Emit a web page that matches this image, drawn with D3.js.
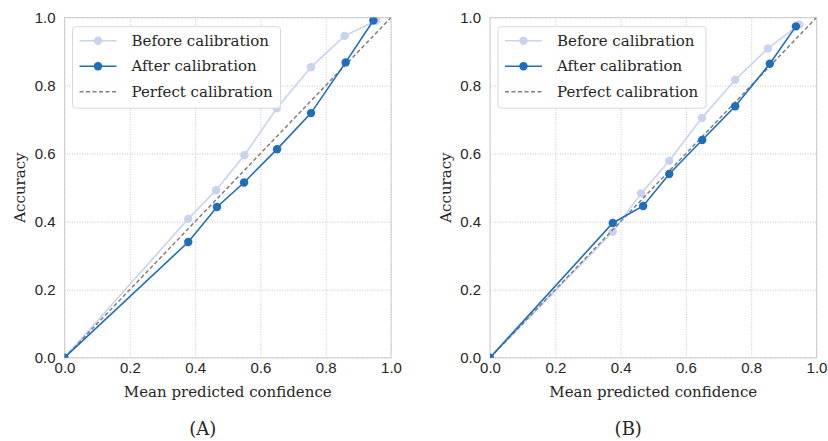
<!DOCTYPE html>
<html>
<head>
<meta charset="utf-8">
<script src="https://cdn.jsdelivr.net/npm/d3@7"></script>
<style>
  body { margin: 0; background: #fff; }
  svg { font-family: "DejaVu Serif", serif; }
</style>
</head>
<body>
<div id="chart"></div>
<script>
/* Two reliability diagrams: before vs after calibration */

const ticks = [0, 0.2, 0.4, 0.6, 0.8, 1.0];
const seriesNames = ["Before calibration", "After calibration", "Perfect calibration"];
const panelLabels = ["(A)", "(B)"];

// Panel A
const aBeforeX = [0, 0.379, 0.464, 0.551, 0.650, 0.755, 0.858, 0.955];
const aBeforeY = [0, 0.408, 0.492, 0.595, 0.733, 0.854, 0.946, 0.991];
const aAfterX  = [0, 0.379, 0.467, 0.550, 0.651, 0.755, 0.861, 0.946];
const aAfterY  = [0, 0.340, 0.443, 0.515, 0.613, 0.719, 0.868, 0.991];

// Panel B
const bBeforeX = [0, 0.376, 0.463, 0.549, 0.649, 0.751, 0.851, 0.947];
const bBeforeY = [0, 0.370, 0.483, 0.579, 0.705, 0.817, 0.909, 0.979];
const bAfterX  = [0, 0.376, 0.469, 0.549, 0.650, 0.751, 0.857, 0.937];
const bAfterY  = [0, 0.396, 0.446, 0.540, 0.640, 0.739, 0.864, 0.974];

const colBefore = "#c9d3ee";
const colAfter = "#1f6eb9";
const textCol = "#262626";

const width = 828, height = 441;
const svg = d3.select("#chart").append("svg")
  .attr("width", width)
  .attr("height", height);

const zip = (xs, ys) => xs.map((x, i) => ({ x, y: ys[i] }));

function drawPanel(left, data, label, idx) {
  const top = 17.5, bottom = 357.7, w = 326.5;
  const x = d3.scaleLinear().domain([0, 1]).range([left, left + w]);
  const y = d3.scaleLinear().domain([0, 1]).range([bottom, top]);
  const g = svg.append("g");

  // Grid
  g.append("g")
    .attr("transform", `translate(0, ${bottom})`)
    .call(d3.axisBottom(x).tickValues(ticks).tickSize(-(bottom - top)).tickFormat(d3.format(".1f")))
    .call(g => g.select(".domain").remove())
    .call(g => g.selectAll("line").attr("stroke", "#b8b8b8").attr("stroke-dasharray", "1,1.5").attr("stroke-width", 0.8))
    .call(g => g.selectAll("text").attr("fill", textCol).attr("font-size", 15).attr("dy", "0.9em").attr("y", 2));

  g.append("g")
    .attr("transform", `translate(${left}, 0)`)
    .call(d3.axisLeft(y).tickValues(ticks).tickSize(-w).tickFormat(d3.format(".1f")))
    .call(g => g.select(".domain").remove())
    .call(g => g.selectAll("line").attr("stroke", "#b8b8b8").attr("stroke-dasharray", "1,1.5").attr("stroke-width", 0.8))
    .call(g => g.selectAll("text").attr("fill", textCol).attr("font-size", 15).attr("x", -9));

  // Frame
  g.append("rect")
    .attr("x", left).attr("y", top)
    .attr("width", w).attr("height", bottom - top)
    .attr("fill", "none").attr("stroke", "#d0d0d0").attr("stroke-width", 1);

  const clipId = "clip" + idx;
  svg.append("clipPath").attr("id", clipId)
    .append("rect").attr("x", left).attr("y", top).attr("width", w).attr("height", bottom - top);
  const plot = g.append("g").attr("clip-path", `url(#${clipId})`);

  const line = d3.line().x(d => x(d.x)).y(d => y(d.y));

  // Before
  plot.append("path").datum(data.before).attr("d", line)
    .attr("fill", "none").attr("stroke", colBefore).attr("stroke-width", 1.6);
  plot.selectAll(".pb").data(data.before).join("circle")
    .attr("cx", d => x(d.x)).attr("cy", d => y(d.y)).attr("r", 4.2).attr("fill", colBefore);

  // Perfect
  plot.append("path").datum([{ x: 0, y: 0 }, { x: 1, y: 1 }]).attr("d", line)
    .attr("fill", "none").attr("stroke", "#808080").attr("stroke-width", 1.5).attr("stroke-dasharray", "4,2.5");

  // After
  plot.append("path").datum(data.after).attr("d", line)
    .attr("fill", "none").attr("stroke", colAfter).attr("stroke-width", 1.6);
  plot.selectAll(".pa").data(data.after).join("circle")
    .attr("cx", d => x(d.x)).attr("cy", d => y(d.y)).attr("r", 4.2).attr("fill", colAfter);

  // Axis labels
  g.append("text")
    .attr("x", left + w / 2).attr("y", 397)
    .attr("text-anchor", "middle").attr("font-size", 15).attr("fill", textCol)
    .text("Mean predicted confidence");
  g.append("text")
    .attr("transform", `translate(${left - 39.5}, ${(top + bottom) / 2}) rotate(-90)`)
    .attr("text-anchor", "middle").attr("font-size", 15).attr("fill", textCol)
    .text("Accuracy");
  g.append("text")
    .attr("x", left + w / 2 - 25).attr("y", 435)
    .attr("text-anchor", "middle").attr("font-size", 18).attr("fill", textCol)
    .text(label);

  // Legend
  const lg = g.append("g").attr("transform", `translate(${left + 8}, 26.7)`);
  lg.append("rect").attr("width", 208).attr("height", 81.5).attr("rx", 3)
    .attr("fill", "rgba(255,255,255,0.85)").attr("stroke", "#d8d8d8");
  const styles = [
    { c: colBefore, dash: null, dot: true },
    { c: colAfter, dash: null, dot: true },
    { c: "#808080", dash: "4,2.5", dot: false }
  ];
  seriesNames.forEach((name, i) => {
    const yy = 14 + i * 25.5;
    lg.append("line").attr("x1", 7).attr("x2", 44).attr("y1", yy).attr("y2", yy)
      .attr("stroke", styles[i].c).attr("stroke-width", 1.6)
      .attr("stroke-dasharray", styles[i].dash);
    if (styles[i].dot) {
      lg.append("circle").attr("cx", 25.5).attr("cy", yy).attr("r", 4.2).attr("fill", styles[i].c);
    }
    lg.append("text").attr("x", 59).attr("y", yy).attr("dy", "0.35em")
      .attr("font-size", 15).attr("fill", textCol).text(name);
  });
}

drawPanel(64.5, { before: zip(aBeforeX, aBeforeY), after: zip(aAfterX, aAfterY) }, panelLabels[0], 0);
drawPanel(490, { before: zip(bBeforeX, bBeforeY), after: zip(bAfterX, bAfterY) }, panelLabels[1], 1);
</script>
</body>
</html>
